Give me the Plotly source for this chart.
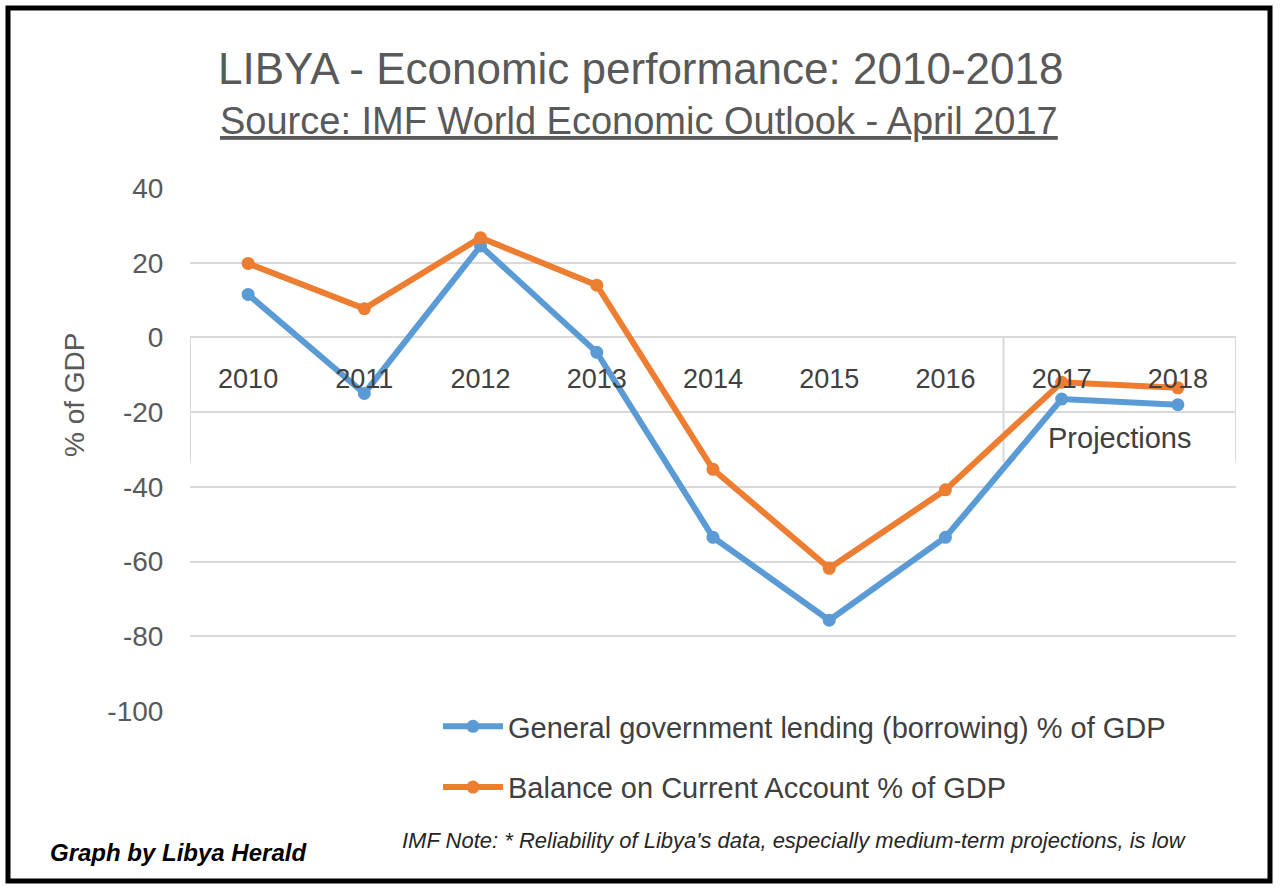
import plotly.graph_objects as go

# ---- data ----
years = ["2010", "2011", "2012", "2013", "2014", "2015", "2016", "2017", "2018"]
gov_lending = [11.5, -15.0, 24.5, -4.0, -53.5, -75.7, -53.5, -16.5, -18.0]
current_account = [19.8, 7.7, 26.7, 14.0, -35.3, -61.8, -40.8, -12.0, -13.5]
y_ticks = [40, 20, 0, -20, -40, -60, -80, -100]
series_names = ["General government lending (borrowing) % of GDP",
                "Balance on Current Account % of GDP"]

# ---- layout geometry (pixels) ----
W, H = 1280, 889
PL, PR, PT, PB = 190, 1236, 188, 711  # plot area edges


def px(x):
    return (x - PL) / (PR - PL)


def py(y):
    return (PB - y) / (PB - PT)


FONT = "Liberation Sans, Arial, sans-serif"
GRID = "#d9d9d9"
TXT = "#595959"

fig = go.Figure()
fig.add_trace(go.Scatter(x=years, y=gov_lending, name=series_names[0], mode="lines+markers",
                         line=dict(color="#5B9BD5", width=6),
                         marker=dict(size=13, color="#5B9BD5"), legendgroup="a"))
fig.add_trace(go.Scatter(x=years, y=current_account, name=series_names[1], mode="lines+markers",
                         line=dict(color="#ED7D31", width=6),
                         marker=dict(size=13, color="#ED7D31"), legendgroup="b"))

shapes = []
# outer black frame
shapes.append(dict(type="rect", xref="paper", yref="paper",
                   x0=px(8), x1=px(1270), y0=py(881), y1=py(8),
                   line=dict(color="black", width=5), layer="below"))
# projection separators (category table lines)
for xv in [-0.5, 6.5, 8.5]:
    shapes.append(dict(type="line", xref="x", yref="y", x0=xv, x1=xv, y0=0, y1=-33.4,
                       line=dict(color=GRID, width=2), layer="below"))


def ann(text, x, y, size, color, **kw):
    d = dict(text=text, xref="paper", yref="paper", x=px(x), y=py(y), showarrow=False,
             xanchor="center", yanchor="middle", font=dict(family=FONT, size=size, color=color))
    d.update(kw)
    return d


annotations = [
    ann("LIBYA - Economic performance: 2010-2018", 640, 68, 44, TXT),
    ann("<u>Source: IMF World Economic Outlook - April 2017</u>", 639, 121, 38, TXT),
    ann("% of GDP", 74, 395, 28, TXT, textangle=-90),
    dict(text="Projections", xref="x", yref="y", x=7.5, y=-27, showarrow=False,
         xanchor="center", yanchor="middle",
         font=dict(family=FONT, size=29, color="#404040")),
    ann("<b><i>Graph by Libya Herald</i></b>", 48, 852, 24, "black", xanchor="left"),
    ann("<i>IMF Note: * Reliability of Libya's data, especially medium-term projections, is low</i>",
        794, 840, 22, "#262626"),
]

fig.update_layout(
    width=W, height=H,
    margin=dict(l=PL, r=W - PR, t=PT, b=H - PB, pad=0),
    paper_bgcolor="white", plot_bgcolor="white",
    font=dict(family=FONT, color=TXT),
    shapes=shapes, annotations=annotations,
    showlegend=True,
    legend=dict(x=px(438), y=py(701), xanchor="left", yanchor="top",
                bgcolor="rgba(0,0,0,0)", tracegroupgap=20,
                font=dict(family=FONT, size=29, color="#404040"), itemwidth=60),
    xaxis=dict(type="category", categoryorder="array", categoryarray=years,
               range=[-0.5, 8.5], anchor="free", position=100 / 140,
               showgrid=False, showline=False, zeroline=False,
               ticks="outside", ticklen=17, tickcolor="rgba(0,0,0,0)",
               tickfont=dict(family=FONT, size=27, color="#404040")),
    yaxis=dict(range=[-100, 40], tickvals=y_ticks, ticktext=[str(v) for v in y_ticks],
               showgrid=True, gridcolor=GRID, gridwidth=2, zeroline=False, showline=False,
               ticks="outside", ticklen=20, tickcolor="rgba(0,0,0,0)",
               tickfont=dict(family=FONT, size=28, color=TXT)),
)

fig.write_html("out.html")
